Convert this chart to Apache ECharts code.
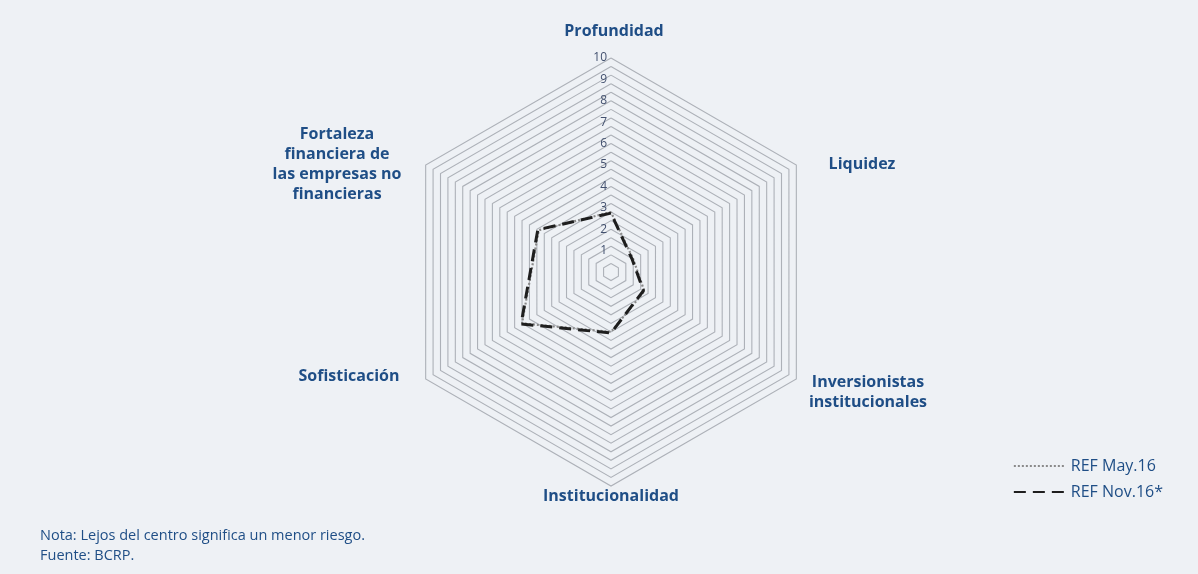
<!DOCTYPE html>
<html>
<head>
<meta charset="utf-8">
<script src="https://cdn.jsdelivr.net/npm/echarts@6/dist/echarts.min.js"></script>
<style>
  html, body { margin: 0; padding: 0; background: #eef1f5; }
  #chart { width: 1198px; height: 574px; }
</style>
</head>
<body>
<div id="chart"></div>
<script>
// ejes en el orden de ECharts (antihorario desde arriba)
const indicators = [
  'Profundidad',
  'Fortaleza financiera de las empresas no financieras',
  'Sofisticación',
  'Institucionalidad',
  'Inversionistas institucionales',
  'Liquidez',
]
const refMay16 = [2.8, 3.9, 4.8, 2.8, 1.8, 1.2]
const refNov16 = [2.75, 3.95, 4.85, 2.85, 1.75, 1.15]
const seriesNames = ['REF May.16', 'REF Nov.16*']
const axisMax = 10

const CENTER = [611, 272]
const RADIUS = 214
const BLUE = '#1f4e86'

const chart = echarts.init(document.getElementById('chart'), null, { renderer: 'canvas' })

const mayStyle = { color: '#8a8a8a', width: 2.2, type: [2, 2] }
const novStyle = { color: '#1e1e1e', width: 3, type: [12, 7] }

// etiquetas de los ejes, centradas como en el original
const nameLabels = [
  { text: 'Profundidad', x: 614, y: 31 },
  { text: 'Liquidez', x: 862, y: 164 },
  { text: 'Inversionistas\ninstitucionales', x: 868, y: 392 },
  { text: 'Institucionalidad', x: 611, y: 496 },
  { text: 'Sofisticación', x: 349, y: 376 },
  { text: 'Fortaleza\nfinanciera de\nlas empresas no\nfinancieras', x: 337, y: 164 },
]

chart.setOption({
  backgroundColor: '#eef1f5',
  animation: false,
  legend: {
    orient: 'vertical',
    right: 30,
    top: 453,
    itemWidth: 52,
    itemHeight: 14,
    itemGap: 10,
    itemStyle: { opacity: 0 },
    textStyle: { fontFamily: 'Open Sans', fontSize: 16, color: BLUE },
    data: seriesNames,
  },
  grid: { left: 0, top: 0, width: 1, height: 1, show: false },
  xAxis: { show: false, type: 'value' },
  yAxis: { show: false, type: 'value' },
  polar: { center: CENTER, radius: RADIUS },
  angleAxis: { show: false, startAngle: 90, min: 0, max: 360 },
  radiusAxis: {
    min: 0,
    max: axisMax,
    interval: 1,
    axisLine: { show: false },
    axisTick: { show: false },
    splitLine: { show: false },
    axisLabel: {
      margin: 4,
      fontFamily: 'Open Sans',
      fontSize: 12,
      color: '#42506e',
      formatter: (v) => (v === 0 ? '' : String(v)),
    },
  },
  radar: {
    center: CENTER,
    radius: RADIUS,
    startAngle: 90,
    shape: 'polygon',
    splitNumber: 25,
    indicator: indicators.map(n => ({ name: n, min: 0, max: axisMax })),
    axisName: { show: false },
    axisLine: { show: false },
    axisTick: { show: false },
    splitArea: { show: false },
    splitLine: { lineStyle: { color: '#adb1b8', width: 1.1 } },
  },
  series: [
    { type: 'line', name: seriesNames[0], data: [], symbol: 'none', lineStyle: mayStyle, itemStyle: { color: mayStyle.color } },
    { type: 'line', name: seriesNames[1], data: [], symbol: 'none', lineStyle: novStyle, itemStyle: { color: novStyle.color } },
    {
      type: 'radar',
      symbol: 'none',
      data: [
        { name: seriesNames[0], value: refMay16, lineStyle: mayStyle },
        { name: seriesNames[1], value: refNov16, lineStyle: novStyle },
      ],
    },
  ],
  graphic: [
    ...nameLabels.map(l => ({
      type: 'text',
      x: l.x,
      y: l.y,
      style: {
        text: l.text,
        textAlign: 'center',
        textVerticalAlign: 'middle',
        fontFamily: 'Open Sans',
        fontWeight: 'bold',
        fontSize: 16,
        lineHeight: 20,
        fill: BLUE,
      },
    })),
    {
      type: 'text',
      left: 40,
      top: 526,
      style: {
        text: 'Nota: Lejos del centro significa un menor riesgo.\nFuente: BCRP.',
        fontFamily: 'Open Sans',
        fontSize: 14.5,
        lineHeight: 20,
        fill: BLUE,
      },
    },
  ],
})
</script>
</body>
</html>
